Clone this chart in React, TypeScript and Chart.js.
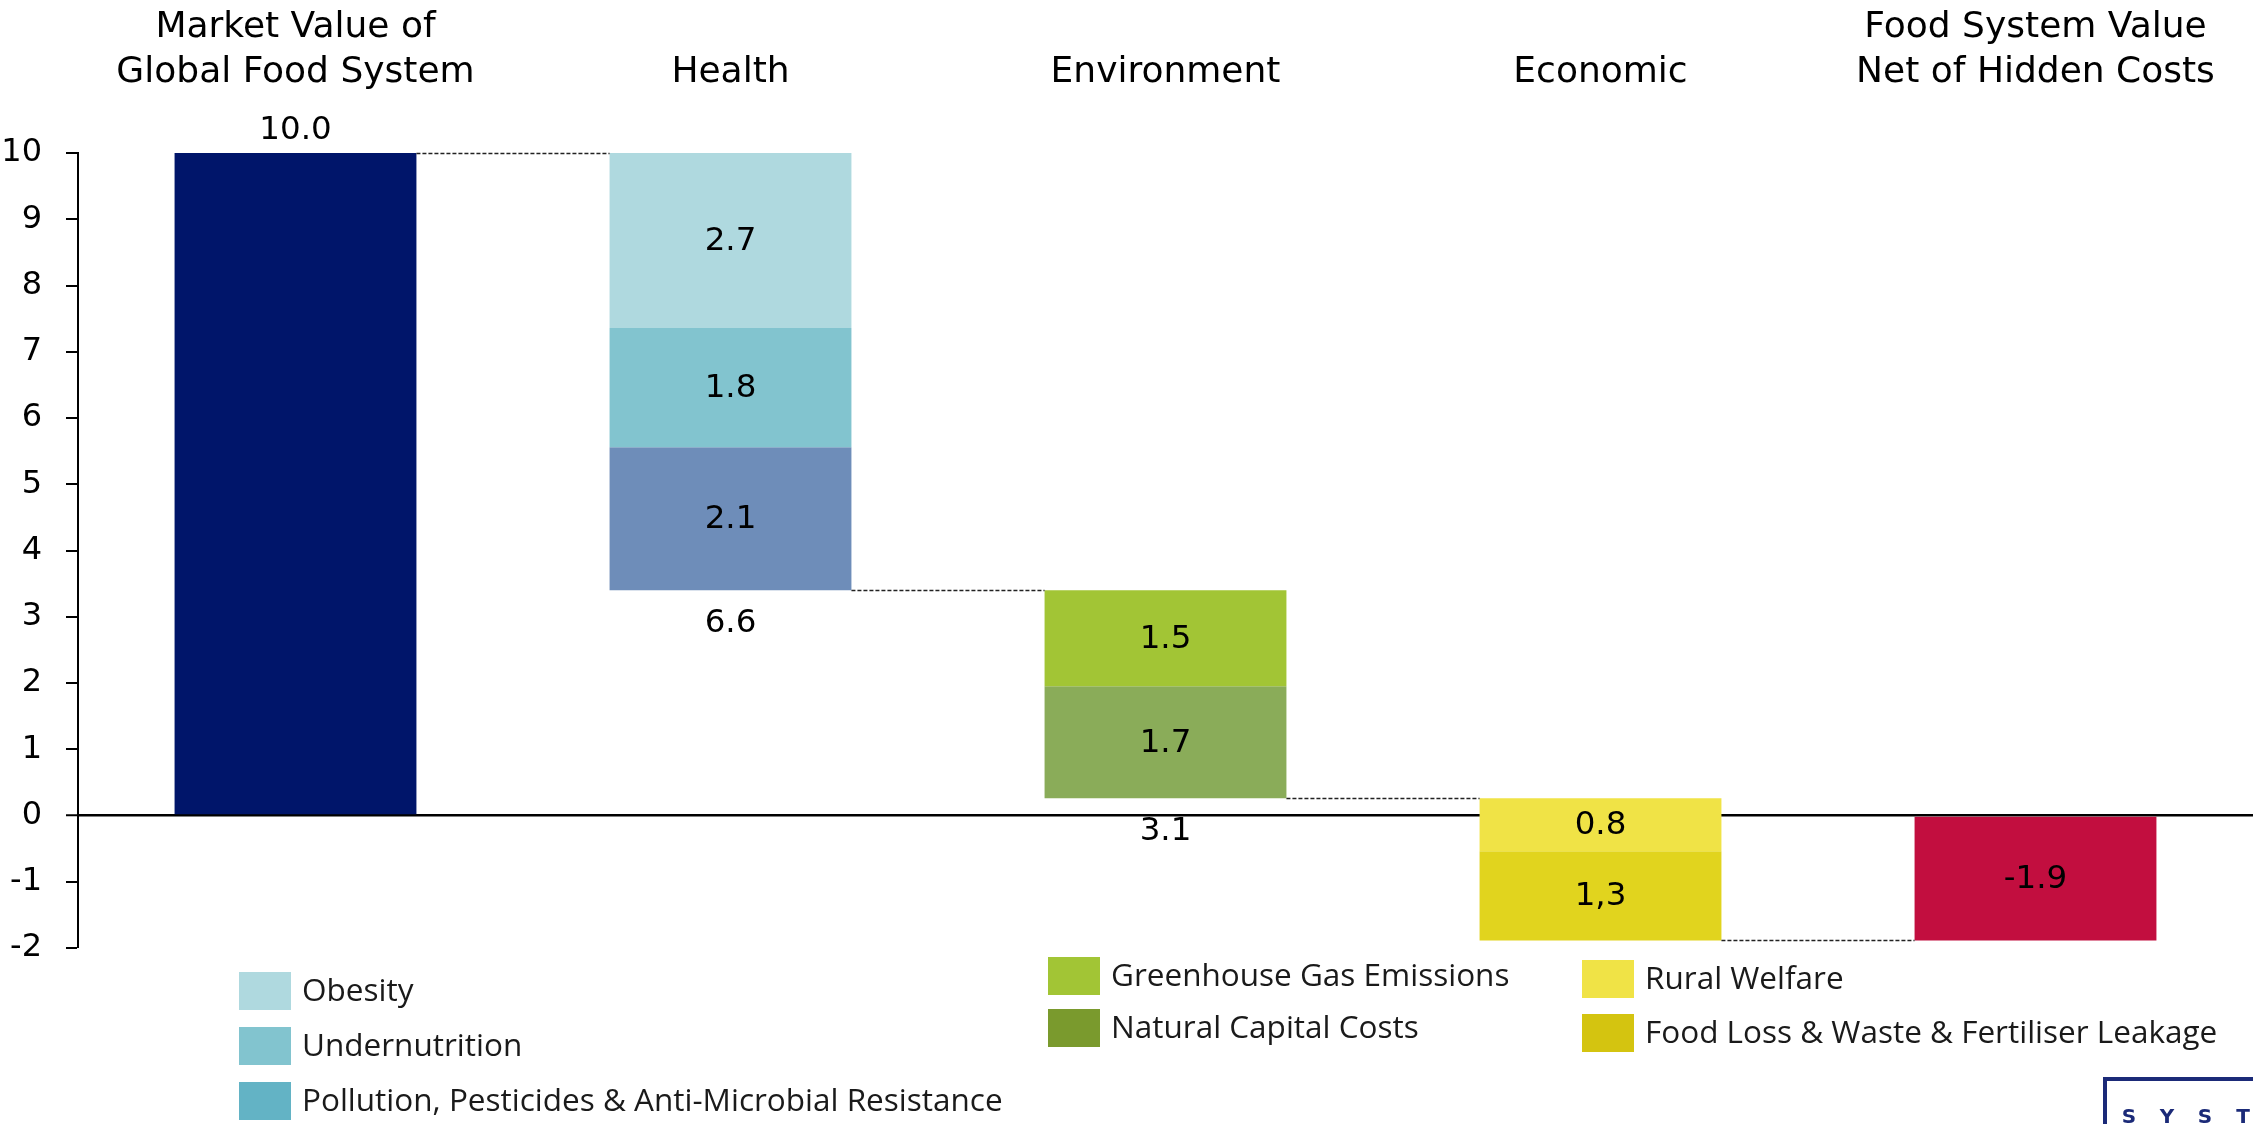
import React, { useEffect, useRef } from "react";
import { Chart, registerables } from "chart.js";

Chart.register(...registerables);

// ---------- data ----------
const categoryLabels: string[][] = [
  ["Market Value of", "Global Food System"],
  ["Health"],
  ["Environment"],
  ["Economic"],
  ["Food System Value", "Net of Hidden Costs"],
];

const marketValue = 10.0;
const marketLabel = "10.0";

const healthNames = ["Obesity", "Undernutrition", "Pollution, Pesticides & Anti-Microbial Resistance"];
const healthValues = [2.64, 1.8, 2.16];
const healthLabels = ["2.7", "1.8", "2.1"];
const healthTotalLabel = "6.6";

const environmentNames = ["Greenhouse Gas Emissions", "Natural Capital Costs"];
const environmentValues = [1.45, 1.69];
const environmentLabels = ["1.5", "1.7"];
const environmentTotalLabel = "3.1";

const economicNames = ["Rural Welfare", "Food Loss & Waste & Fertiliser Leakage"];
const economicValues = [0.8, 1.345];
const economicLabels = ["0.8", "1,3"];

const netLabel = "-1.9";

const yMin = -2;
const yMax = 10;
const yStep = 1;

const logoText = "SYSTEMIQ";

// ---------- styles ----------
const marketColor = "#00156A";
const healthBarColors = ["#AFD9DF", "#82C4CF", "#6E8DB9"];
const healthLegendColors = ["#AFD9DF", "#82C4CF", "#63B3C5"];
const environmentBarColors = ["#A2C535", "#8AAC59"];
const environmentLegendColors = ["#A2C535", "#7A9A2D"];
const economicBarColors = ["#F0E346", "#E1D41E"];
const economicLegendColors = ["#F0E346", "#D4C410"];
const netColor = "#C20E3F";

const W = 2253;
const H = 1124;
const FAMILY = '"Century Gothic", "DejaVu Sans", sans-serif';
const TITLE_FONT = `36px ${FAMILY}`;
const VALUE_FONT = `32.5px ${FAMILY}`;
const LEGEND_FONT = '31.5px "Open Sans", "Noto Sans", sans-serif';

// legend layout (groups of items)
const legendGroups = [
  { x: 239, top: 972, gap: 55, names: healthNames, colors: healthLegendColors },
  { x: 1048, top: 957, gap: 52, names: environmentNames, colors: environmentLegendColors },
  { x: 1582, top: 960, gap: 54, names: economicNames, colors: economicLegendColors },
];

type Seg = { cat: number; range: [number, number]; color: string; label: string; pos: "in" | "above" };

function buildSegments(): { segs: Seg[]; levels: number[] } {
  const segs: Seg[] = [];
  const levels: number[] = [];
  segs.push({ cat: 0, range: [0, marketValue], color: marketColor, label: marketLabel, pos: "above" });
  let level = marketValue;
  levels.push(level);
  const groups = [
    { cat: 1, values: healthValues, labels: healthLabels, colors: healthBarColors },
    { cat: 2, values: environmentValues, labels: environmentLabels, colors: environmentBarColors },
    { cat: 3, values: economicValues, labels: economicLabels, colors: economicBarColors },
  ];
  for (const g of groups) {
    g.values.forEach((v, i) => {
      segs.push({ cat: g.cat, range: [level - v, level], color: g.colors[i], label: g.labels[i], pos: "in" });
      level -= v;
    });
    levels.push(level);
  }
  segs.push({ cat: 4, range: [level, 0], color: netColor, label: netLabel, pos: "in" });
  return { segs, levels };
}

export default function App() {
  const canvasRef = useRef<HTMLCanvasElement | null>(null);

  useEffect(() => {
    const canvas = canvasRef.current;
    if (!canvas) return;
    const { segs, levels } = buildSegments();
    const totalLabels: (string | null)[] = [null, healthTotalLabel, environmentTotalLabel, null, null];

    const datasets = segs.map((s) => {
      const data: any[] = categoryLabels.map(() => null);
      data[s.cat] = s.range;
      return {
        data,
        backgroundColor: s.color,
        borderWidth: 0,
        grouped: false,
        categoryPercentage: 1,
        barPercentage: 0.556,
      } as any;
    });

    const overlay = {
      id: "overlay",
      afterDatasetsDraw(chart: any) {
        const ctx = chart.ctx as CanvasRenderingContext2D;
        const xs = chart.scales.x;
        const ys = chart.scales.y;
        ctx.save();
        // connectors
        const anyEl = chart.getDatasetMeta(0).data[0];
        const bw = anyEl.width;
        ctx.strokeStyle = "#222";
        ctx.lineWidth = 1.4;
        ctx.setLineDash([4, 2]);
        levels.forEach((lv, i) => {
          const y = Math.round(ys.getPixelForValue(lv)) + 0.5;
          const x1 = xs.getPixelForValue(i) + bw / 2;
          const x2 = xs.getPixelForValue(i + 1) - bw / 2;
          ctx.beginPath();
          ctx.moveTo(x1, y);
          ctx.lineTo(x2, y);
          ctx.stroke();
        });
        ctx.setLineDash([]);
        // segment labels
        ctx.fillStyle = "#000";
        ctx.font = VALUE_FONT;
        ctx.textAlign = "center";
        segs.forEach((s, i) => {
          const el = chart.getDatasetMeta(i).data[s.cat];
          const top = Math.min(el.y, el.base);
          const bot = Math.max(el.y, el.base);
          if (s.pos === "above") {
            ctx.textBaseline = "alphabetic";
            ctx.fillText(s.label, el.x, top - 14);
          } else {
            ctx.textBaseline = "middle";
            ctx.fillText(s.label, el.x, (top + bot) / 2 + 1);
          }
        });
        // totals below bars
        ctx.textBaseline = "alphabetic";
        totalLabels.forEach((t, ci) => {
          if (!t) return;
          const lvl = levels[ci];
          const y = ys.getPixelForValue(lvl);
          ctx.fillText(t, xs.getPixelForValue(ci), y + 42);
        });
        ctx.restore();
      },
      afterDraw(chart: any) {
        const ctx = chart.ctx as CanvasRenderingContext2D;
        const xs = chart.scales.x;
        ctx.save();
        // category titles
        ctx.fillStyle = "#000";
        ctx.font = TITLE_FONT;
        ctx.textAlign = "center";
        ctx.textBaseline = "alphabetic";
        categoryLabels.forEach((lines, ci) => {
          const x = xs.getPixelForValue(ci);
          lines.forEach((ln, li) => {
            const y = 82 - (lines.length - 1 - li) * 45;
            ctx.fillText(ln, x, y);
          });
        });
        // legend
        ctx.font = LEGEND_FONT;
        ctx.textAlign = "left";
        ctx.textBaseline = "middle";
        legendGroups.forEach((g) => {
          g.names.forEach((n, i) => {
            const top = g.top + i * g.gap;
            ctx.fillStyle = g.colors[i];
            ctx.fillRect(g.x, top, 52, 38);
            ctx.fillStyle = "#1a1a1a";
            ctx.fillText(n, g.x + 63, top + 20);
          });
        });
        // logo box
        ctx.strokeStyle = "#1B2A78";
        ctx.lineWidth = 4;
        ctx.beginPath();
        ctx.moveTo(2105, H + 10);
        ctx.lineTo(2105, 1079);
        ctx.lineTo(W + 10, 1079);
        ctx.stroke();
        ctx.fillStyle = "#1B2A78";
        ctx.font = 'bold 20px "DejaVu Sans", sans-serif';
        ctx.textAlign = "center";
        ctx.textBaseline = "alphabetic";
        logoText.split("").forEach((ch, i) => {
          ctx.fillText(ch, 2129 + i * 38, 1123);
        });
        ctx.restore();
      },
    };

    const chart = new Chart(canvas, {
      type: "bar",
      data: { labels: categoryLabels.map((l) => l.join(" ")), datasets },
      options: {
        responsive: false,
        devicePixelRatio: 1,
        animation: false,
        layout: { padding: { left: 0, right: 0, top: 153, bottom: H - 948 } },
        plugins: { legend: { display: false }, tooltip: { enabled: false } },
        scales: {
          x: { type: "category", display: false, offset: true },
          y: {
            type: "linear",
            min: yMin,
            max: yMax,
            afterFit: (scale: any) => {
              scale.width = 78;
            },
            border: { display: true, color: "#000", width: 2 },
            grid: {
              drawOnChartArea: true,
              drawTicks: true,
              tickLength: 12,
              tickColor: "#000",
              tickWidth: 2,
              color: (c: any) => (c.tick && c.tick.value === 0 ? "#000" : "rgba(0,0,0,0)"),
              lineWidth: (c: any) => (c.tick && c.tick.value === 0 ? 2.5 : 0),
            },
            ticks: {
              stepSize: yStep,
              color: "#000",
              padding: 24,
              font: { family: FAMILY, size: 32 },
            },
          },
        },
      } as any,
      plugins: [overlay],
    });
    return () => chart.destroy();
  }, []);

  return (
    <div style={{ position: "absolute", left: 0, top: 0, width: W, height: H, overflow: "hidden", background: "#fff" }}>
      <canvas ref={canvasRef} width={W} height={H} style={{ display: "block", width: W, height: H }} />
    </div>
  );
}
